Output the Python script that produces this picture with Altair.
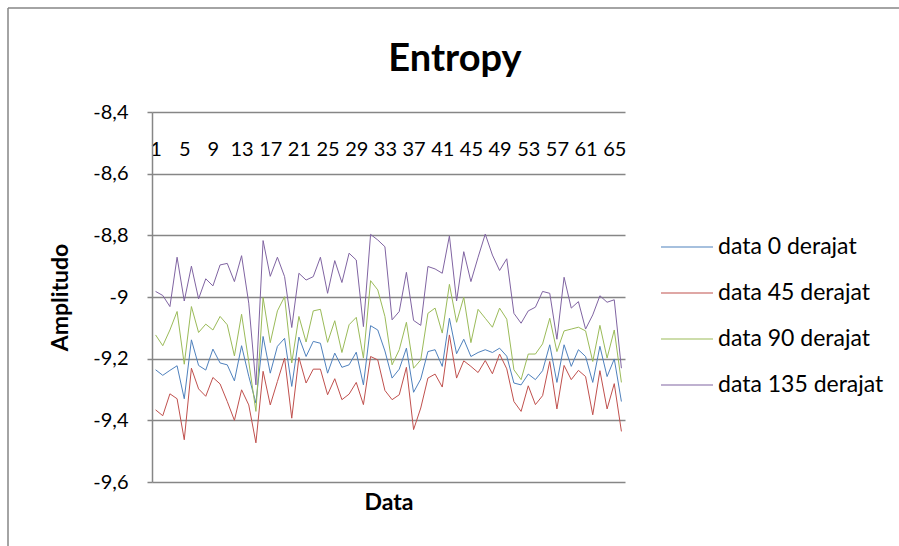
import altair as alt
import pandas as pd

# ---- data ----
idx = list(range(1, 67))
series_names = ["data 0 derajat", "data 45 derajat", "data 90 derajat", "data 135 derajat"]
series_colors = ["#4F81BD", "#C0504D", "#9BBB59", "#8064A2"]
chart_title = "Entropy"

d0 = [-9.236, -9.254, -9.238, -9.223, -9.330, -9.139, -9.222, -9.237, -9.169, -9.214,
      -9.220, -9.272, -9.158, -9.257, -9.344, -9.128, -9.247, -9.160, -9.134, -9.290,
      -9.130, -9.193, -9.144, -9.150, -9.247, -9.182, -9.228, -9.220, -9.179, -9.285,
      -9.093, -9.107, -9.175, -9.263, -9.234, -9.166, -9.309, -9.266, -9.177, -9.171,
      -9.225, -9.069, -9.184, -9.137, -9.193, -9.180, -9.171, -9.180, -9.166, -9.192,
      -9.279, -9.285, -9.250, -9.268, -9.239, -9.155, -9.277, -9.155, -9.225, -9.171,
      -9.193, -9.277, -9.160, -9.258, -9.201, -9.339]
d45 = [-9.366, -9.385, -9.314, -9.330, -9.463, -9.231, -9.298, -9.322, -9.261, -9.282,
       -9.339, -9.400, -9.301, -9.350, -9.473, -9.241, -9.350, -9.274, -9.198, -9.393,
       -9.196, -9.279, -9.234, -9.234, -9.317, -9.265, -9.333, -9.315, -9.277, -9.349,
       -9.193, -9.204, -9.303, -9.333, -9.317, -9.228, -9.430, -9.360, -9.263, -9.250,
       -9.292, -9.123, -9.263, -9.207, -9.225, -9.245, -9.206, -9.249, -9.185, -9.233,
       -9.339, -9.371, -9.288, -9.349, -9.320, -9.209, -9.363, -9.222, -9.268, -9.238,
       -9.258, -9.382, -9.239, -9.363, -9.281, -9.436]
d90 = [-9.123, -9.158, -9.107, -9.047, -9.218, -9.031, -9.115, -9.088, -9.107, -9.063,
       -9.090, -9.191, -9.056, -9.210, -9.371, -9.002, -9.148, -9.045, -8.999, -9.214,
       -9.063, -9.146, -9.045, -9.040, -9.147, -9.077, -9.180, -9.090, -9.066, -9.198,
       -8.947, -8.977, -9.063, -9.220, -9.171, -9.082, -9.231, -9.204, -9.053, -9.036,
       -9.117, -8.959, -9.082, -9.001, -9.148, -9.040, -9.069, -9.098, -9.036, -9.072,
       -9.236, -9.268, -9.185, -9.185, -9.152, -9.069, -9.177, -9.110, -9.104, -9.098,
       -9.110, -9.209, -9.092, -9.198, -9.107, -9.277]
d135 = [-8.982, -8.995, -9.031, -8.871, -9.013, -8.900, -9.006, -8.941, -8.964, -8.896,
        -8.891, -8.950, -8.866, -9.020, -9.285, -8.817, -8.933, -8.871, -8.934, -9.099,
        -8.923, -8.945, -8.934, -8.871, -8.988, -8.882, -8.953, -8.858, -8.880, -9.096,
        -8.797, -8.815, -8.837, -9.074, -9.047, -8.920, -9.076, -9.092, -8.901, -8.909,
        -8.923, -8.802, -9.013, -8.853, -8.950, -8.871, -8.796, -8.864, -8.914, -8.876,
        -9.053, -9.085, -9.045, -9.033, -8.982, -8.988, -9.137, -8.936, -9.036, -9.015,
        -9.104, -9.058, -8.996, -9.017, -9.009, -9.231]

x_tick_values = list(range(1, 67, 4))
y_tick_values = [-9.6, -9.4, -9.2, -9.0, -8.8, -8.6, -8.4]

rows = []
for name, vals in zip(series_names, [d0, d45, d90, d135]):
    for i, v in zip(idx, vals):
        rows.append({"Data": i, "Amplitudo": v, "series": name})
df = pd.DataFrame(rows)

W, H = 473, 370
FONT = "Lato"
GRAY = "#868686"

lines = alt.Chart(df).mark_line(strokeWidth=1, clip=False).encode(
    x=alt.X(
        "Data:O",
        scale=alt.Scale(type="point", padding=0.5),
        axis=alt.Axis(
            orient="bottom", offset=-H, values=x_tick_values, labelAngle=0,
            domain=False, ticks=False, grid=False, labelOverlap=False,
            labelFontSize=20, labelPadding=27, labelColor="#000000",
            title="Data", titleFontSize=23, titleFontWeight="bold",
            titleColor="#000000", titleX=W / 2, titleY=390, titleBaseline="middle",
        ),
    ),
    y=alt.Y(
        "Amplitudo:Q",
        scale=alt.Scale(domain=[-9.6, -8.4], nice=False, zero=False),
        axis=alt.Axis(
            values=y_tick_values, grid=True, gridColor=GRAY, gridWidth=1.5,
            domainColor=GRAY, domainWidth=1.5, ticks=True, tickColor=GRAY,
            tickSize=5, tickWidth=1.5, labelFontSize=20, labelPadding=19,
            labelColor="#000000",
            labelExpr="'-' + replace(format(-datum.value, '~g'), '.', ',')",
            title="Amplitudo", titleFontSize=23, titleFontWeight="bold",
            titleColor="#000000", titleAngle=-90, titleX=-92, titleY=H / 2,
            titleBaseline="middle", titleAlign="center",
        ),
    ),
    color=alt.Color(
        "series:N",
        scale=alt.Scale(domain=series_names, range=series_colors),
        legend=alt.Legend(
            title=None, orient="none", legendX=508, legendY=108,
            symbolType="stroke", symbolSize=2704, symbolStrokeWidth=1.2,
            labelFontSize=23, labelColor="#000000", rowPadding=7,
            labelOffset=4, labelLimit=400,
        ),
    ),
)

border = alt.Chart(pd.DataFrame({"a": [0]})).mark_rule(
    color=GRAY, strokeWidth=1.5, clip=False
).encode(x=alt.value(-144), y=alt.value(-104), y2=alt.value(440))

border_top = alt.Chart(pd.DataFrame({"a": [0]})).mark_rule(
    color=GRAY, strokeWidth=1.5, clip=False
).encode(x=alt.value(-144), x2=alt.value(760), y=alt.value(-104))

title_text = alt.Chart(pd.DataFrame({"t": [chart_title]})).mark_text(
    font=FONT, fontSize=38, fontWeight="bold", color="#000000",
    align="center", baseline="alphabetic", clip=False,
).encode(text="t:N", x=alt.value(303), y=alt.value(-41))

chart = alt.layer(border, border_top, title_text, lines).properties(
    width=W, height=H,
    autosize=alt.AutoSizeParams(type="none"),
    padding={"left": 152, "top": 112, "right": 274, "bottom": 64},
).configure(font=FONT).configure_view(stroke=None)

chart.save("out.html", embed_options={"renderer": "svg", "actions": False})
